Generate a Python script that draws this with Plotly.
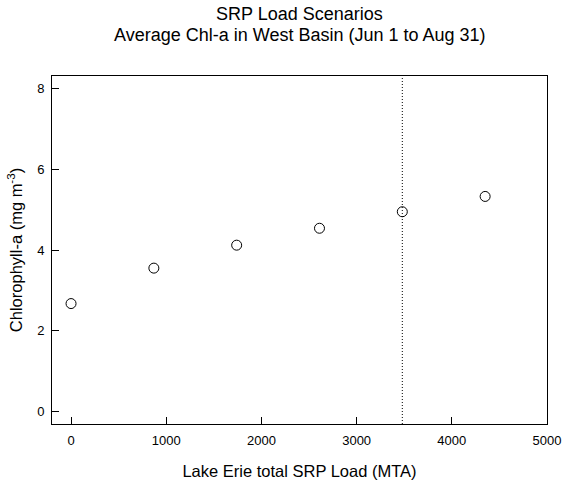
import plotly.graph_objects as go

# Data
srp_load = [0, 870, 1740, 2610, 3480, 4350]
chl_a = [2.67, 3.55, 4.12, 4.54, 4.95, 5.33]
reference_load = 3480
x_ticks = [0, 1000, 2000, 3000, 4000, 5000]
y_ticks = [0, 2, 4, 6, 8]
title_lines = ["SRP Load Scenarios", "Average Chl-a in West Basin (Jun 1 to Aug 31)"]

FONT = "Liberation Sans, Arial, sans-serif"
PLOT_TOP, PLOT_H = 76, 348

fig = go.Figure()
fig.add_trace(go.Scatter(
    x=srp_load, y=chl_a, mode="markers",
    marker=dict(symbol="circle-open", size=10, color="black", line=dict(width=1, color="black")),
    showlegend=False, hoverinfo="x+y",
))

fig.add_shape(type="line", xref="x", yref="y domain",
              x0=reference_load, x1=reference_load, y0=0, y1=1,
              line=dict(color="black", width=1, dash="1px,2px"))

for line_text, center_px in zip(title_lines, [14, 35]):
    fig.add_annotation(
        text=line_text, xref="paper", yref="paper",
        x=0.5, y=1 + (PLOT_TOP - center_px) / PLOT_H,
        xanchor="center", yanchor="middle", showarrow=False,
        font=dict(size=18, family=FONT, color="black"),
    )

fig.update_layout(
    width=563, height=481,
    margin=dict(l=52, r=16, t=76, b=57),
    paper_bgcolor="white", plot_bgcolor="white",
    font=dict(family=FONT, color="black"),
    xaxis=dict(
        range=[-200, 5000], tickvals=x_ticks, ticktext=[str(v) for v in x_ticks],
        ticks="inside", ticklen=7, tickcolor="black", tickwidth=1,
        showline=True, mirror=True, linecolor="black", linewidth=1,
        showgrid=False, zeroline=False, automargin=False,
        tickfont=dict(size=13, family=FONT, color="black"),
        ticklabelstandoff=4,
        title=dict(text="Lake Erie total SRP Load (MTA)", font=dict(size=16.5, family=FONT, color="black"), standoff=18),
    ),
    yaxis=dict(
        range=[-0.32, 8.32], tickvals=y_ticks, ticktext=[str(v) for v in y_ticks],
        ticks="inside", ticklen=7, tickcolor="black", tickwidth=1,
        showline=True, mirror=True, linecolor="black", linewidth=1,
        showgrid=False, zeroline=False, automargin=False,
        tickfont=dict(size=13, family=FONT, color="black"),
        ticklabelstandoff=4,
        title=dict(text="Chlorophyll-a (mg m<sup>-3</sup>)", font=dict(size=16.5, family=FONT, color="black"), standoff=10),
    ),
)

fig.write_html(
    "out.html",
    config={"displayModeBar": False},
    post_script="document.body.style.margin='0';document.body.style.overflow='hidden';",
)
